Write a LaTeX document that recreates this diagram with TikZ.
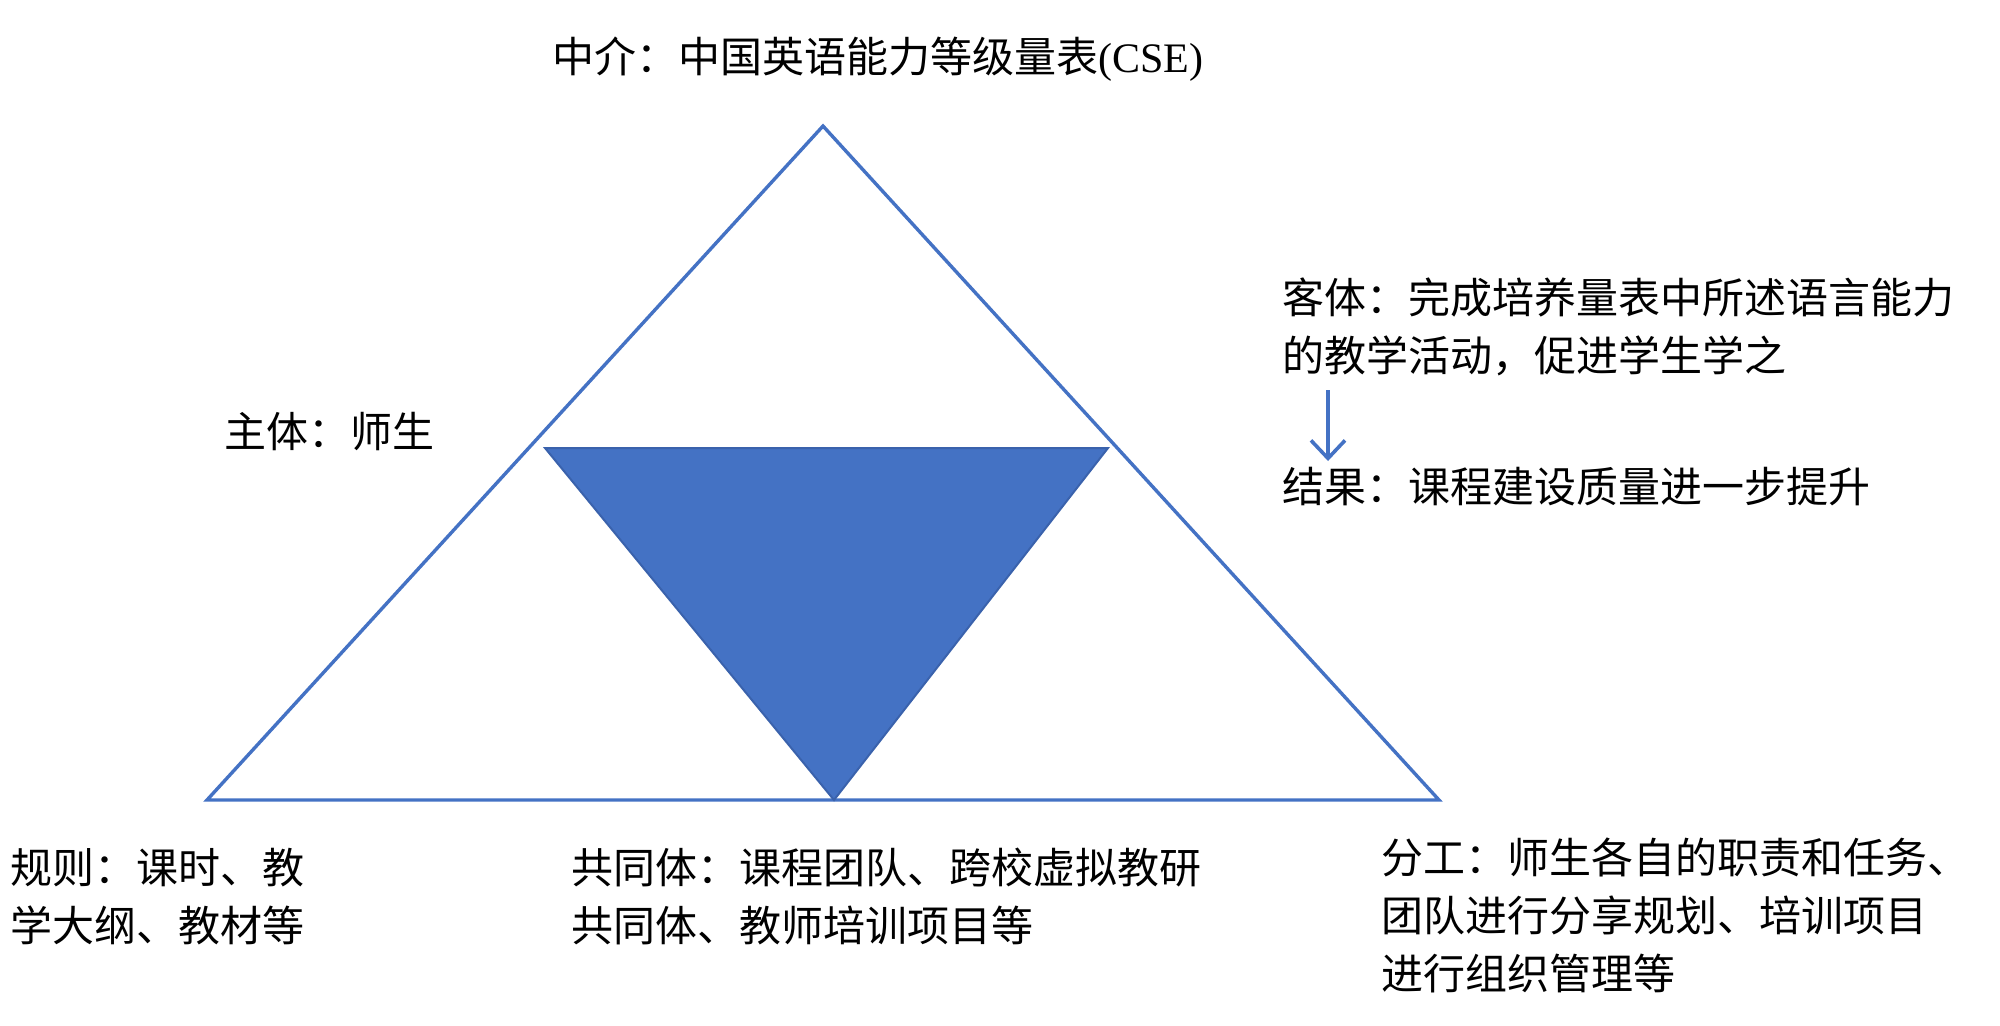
\documentclass[tikz,border=0pt]{standalone}
\usepackage{fontspec}
\setmainfont{Liberation Serif}
\newfontfamily\cjk{Noto Sans CJK SC}
\usetikzlibrary{arrows.meta}
\definecolor{oblue}{HTML}{4472C4}
\definecolor{dblue}{HTML}{3A62AC}
\tikzset{
  txt/.style={inner sep=0pt, font=\fontsize{21}{29}\selectfont\cjk},
  blk/.style={txt, text width=520pt, align=left, anchor=base west},
  outer/.style={draw=oblue, line width=1.7pt, line join=miter},
  inner/.style={draw=dblue, fill=oblue, line width=1pt, line join=miter},
  flow/.style={draw=oblue, line width=1.8pt, -{Straight Barb[length=9pt,width=17pt,line width=1.8pt]}}
}
\begin{document}
\begin{tikzpicture}[x=0.5pt,y=-0.5pt]
\useasboundingbox (0,0) rectangle (2000,1025);
% big triangle
\coordinate (A) at (823,126);
\coordinate (B) at (207,800);
\coordinate (C) at (1439,800);
\draw[outer] (A) -- (B) -- (C) -- cycle;
% inverted triangle
\coordinate (P) at (545,448);
\coordinate (Q) at (1108,448);
\coordinate (R) at (834,800);
\draw[inner] (P) -- (Q) -- (R) -- cycle;
% labels
\node[txt, anchor=base] (med) at (878,72) {中介：中国英语能力等级量表\rmfamily(CSE)};
\node[blk] (subj) at (224,447) {主体：师生};
\node[blk] (obj) at (1282,313) {客体：完成培养量表中所述语言能力\\的教学活动，促进学生学之};
\node[blk] (res) at (1282,502) {结果：课程建设质量进一步提升};
\node[blk] (rule) at (10,883) {规则：课时、教\\学大纲、教材等};
\node[blk] (comm) at (571,883) {共同体：课程团队、跨校虚拟教研\\共同体、教师培训项目等};
\node[blk] (div) at (1381,873) {分工：师生各自的职责和任务、\\团队进行分享规划、培训项目\\进行组织管理等};
% arrow
\coordinate (a1) at (1328,390);
\coordinate (a2) at (1328,461);
\draw[flow] (a1) -- (a2);
\end{tikzpicture}
\end{document}
